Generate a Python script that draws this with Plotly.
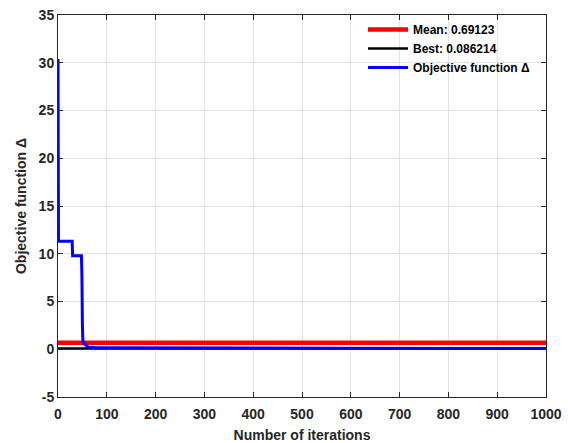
import plotly.graph_objects as go

iters = [0, 1, 29, 30, 48, 49, 50, 51, 53, 56, 60, 63, 70, 80, 100, 150, 200, 300, 400, 500, 600, 700, 800, 900, 1000]
obj = [30.4, 11.3, 11.3, 9.8, 9.8, 7.8, 2.5, 0.9, 0.6, 0.45, 0.32, 0.22, 0.18, 0.17, 0.16, 0.15, 0.14, 0.13, 0.12, 0.11, 0.095, 0.09, 0.088, 0.087, 0.086]
mean_val = 0.69123
best_val = 0.086214
x_range = [0, 1000]

font = dict(family="Liberation Sans, Arial", size=13, color="#262626")
fig = go.Figure()
fig.add_trace(go.Scatter(x=x_range, y=[mean_val, mean_val], mode="lines",
                         line=dict(color="#ff0000", width=4.5), name="<b>Mean: 0.69123</b>"))
fig.add_trace(go.Scatter(x=x_range, y=[best_val, best_val], mode="lines",
                         line=dict(color="#000000", width=2.5), name="<b>Best: 0.086214</b>"))
fig.add_trace(go.Scatter(x=iters, y=obj, mode="lines",
                         line=dict(color="#0000ff", width=3), name="<b>Objective function Δ</b>"))

axis_common = dict(showline=True, linecolor="#262626", linewidth=1, mirror="ticks",
                   ticks="inside", ticklen=5, tickcolor="#262626", automargin=False,
                   showgrid=True, gridcolor="#e3e3e3", gridwidth=1, zeroline=False,
                   tickfont=dict(family="Liberation Sans, Arial", size=14, color="#262626"))
fig.update_xaxes(range=[0, 1000], tickvals=list(range(0, 1001, 100)),
                 ticktext=[f"<b>{v}</b>" for v in range(0, 1001, 100)],
                 ticklabelstandoff=4,
                 title=dict(text="<b>Number of iterations</b>", font=dict(size=14, family="Liberation Sans, Arial", color="#262626"), standoff=9),
                 **axis_common)
fig.update_yaxes(range=[-5, 35], tickvals=list(range(-5, 36, 5)),
                 ticktext=[f"<b>{v}</b>" for v in range(-5, 36, 5)],
                 title=dict(text="<b>Objective function Δ</b>", font=dict(size=14, family="Liberation Sans, Arial", color="#262626"), standoff=8),
                 **axis_common)
fig.update_layout(width=568, height=443, margin=dict(l=58, r=22, t=15, b=46),
                  plot_bgcolor="white", paper_bgcolor="white", font=font,
                  showlegend=True,
                  legend=dict(x=0.625, y=1.0, xanchor="left", yanchor="top",
                              bgcolor="rgba(255,255,255,0)", borderwidth=0,
                              font=dict(family="Liberation Sans, Arial", size=12, color="#000"),
                              tracegroupgap=0, itemwidth=40))
fig.write_html("out.html")
